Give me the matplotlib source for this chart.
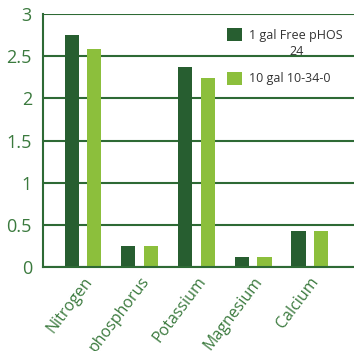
import numpy as np
import matplotlib.pyplot as plt

# data
nutrients = ["Nitrogen", "phosphorus", "Potassium", "Magnesium", "Calcium"]
free_phos = [2.75, 0.25, 2.37, 0.12, 0.43]
ten_gal = [2.59, 0.25, 2.24, 0.12, 0.43]
series_names = ["1 gal Free pHOS", "10 gal 10-34-0"]
name_extra = "24"  # second line of the first legend entry
yticks = [0, 0.5, 1, 1.5, 2, 2.5, 3]

dark = "#275e30"
light = "#8cbf3c"
line_col = "#2e6a35"
text_col = "#3b7a3e"

plt.rcParams['font.family'] = ['Open Sans', 'DejaVu Sans']

fig = plt.figure(figsize=(3.54, 3.51), dpi=100)
ax = fig.add_axes([43 / 354, 84 / 351, 311 / 354, 253 / 351])

x = np.arange(len(nutrients))
w = 0.25
ax.bar(x - 0.2, free_phos, w, color=dark, label=series_names[0], zorder=3)
ax.bar(x + 0.2, ten_gal, w, color=light, label=series_names[1], zorder=3)

ax.set_xlim(-0.705, 4.78)
ax.set_ylim(0, 3)
ax.set_yticks(yticks)
ax.set_yticklabels(["0", "0.5", "1", "1.5", "2", "2.5", "3"])
ax.yaxis.grid(True, color=line_col, linewidth=1.5, zorder=0)
ax.tick_params(axis='both', length=0, colors=text_col, labelsize=13)
ax.tick_params(axis='y', pad=8)
ax.tick_params(axis='x', pad=5)

ax.set_xticks(x)
ax.set_xticklabels(nutrients, rotation=53, ha='right', va='top',
                   rotation_mode='anchor', fontsize=11.5)

for s in ['top', 'right']:
    ax.spines[s].set_visible(False)
for s in ['left', 'bottom']:
    ax.spines[s].set_color(line_col)
    ax.spines[s].set_linewidth(1.5)
ax.spines['bottom'].set_zorder(4)

leg = ax.legend(loc='upper left', bbox_to_anchor=(0.575, 0.965), frameon=False,
                handlelength=1.2, handleheight=1.25, labelspacing=2.4,
                handletextpad=0.6, fontsize=9, labelcolor="#333333",
                borderaxespad=0)

# put the "24" line centred under the first legend label
fig.canvas.draw()
bb = leg.get_texts()[0].get_window_extent().transformed(fig.transFigure.inverted())
fig.text((bb.x0 + bb.x1) / 2, bb.y0 - 0.01, name_extra, ha='center', va='top',
         fontsize=9, color="#333333")

fig.savefig("out.png", dpi=100)
